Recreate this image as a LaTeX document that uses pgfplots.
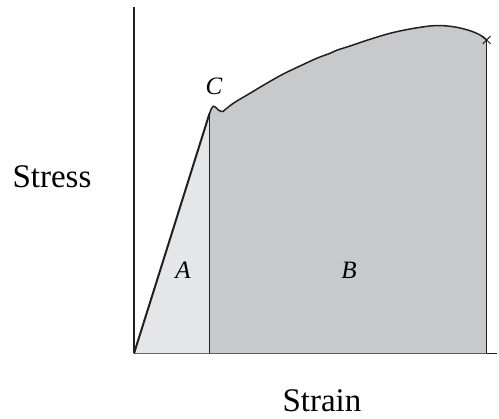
\documentclass[border=0pt]{standalone}
\usepackage{fontspec}
\setmainfont{Liberation Serif}
\usepackage{pgfplots}
\pgfplotsset{compat=1.18}
\definecolor{lite}{RGB}{229,230,232}
\definecolor{dark}{RGB}{200,201,203}
\definecolor{ink}{RGB}{35,31,32}
\begin{document}
\begin{tikzpicture}
\begin{axis}[
  scale only axis, width=363pt, height=346.5pt,
  xmin=0, xmax=363, ymin=0, ymax=346.5,
  axis lines=left, axis line style={-, draw=ink, line width=1.6pt},
  xtick=\empty, ytick=\empty,
  clip=false,
]
% region A (elastic)
\addplot[fill=lite, draw=none] coordinates {(0,0) (75.5,240) (75.5,0)} -- cycle;
% region B (plastic)
\addplot[fill=dark, draw=none] coordinates {
  (75.5,240) (77.5,245) (79.3,247.3) (81.5,246.3) (85,243) (88.7,241.8)
  (99.3,250.2) (116,260.2) (132.7,270.2) (149.3,279.5) (166,287.5)
  (182.7,295.2) (196,300.2) (202.7,303.2) (216,307.5) (236,314.2)
  (256,320.2) (276,324.5) (296,327.5) (309.3,327.8) (322.7,326.2)
  (336,322.8) (346,318.5) (352.7,313.5)} \closedcycle;
% elastic line
\addplot[ink, line width=2pt] coordinates {(0,0) (75.5,240)};
% yield bump
\addplot[ink, line width=1.5pt, smooth, tension=0.6] coordinates {
  (75.5,240) (77.5,245) (79.3,247.3) (81.5,246.3) (85,243) (88.7,241.8)};
% hardening curve
\addplot[ink, line width=1.5pt, smooth] coordinates {
  (88.7,241.8) (99.3,250.2) (116,260.2) (132.7,270.2) (149.3,279.5) (166,287.5)
  (182.7,295.2) (196,300.2) (202.7,303.2) (216,307.5) (236,314.2)
  (256,320.2) (276,324.5) (296,327.5) (309.3,327.8) (322.7,326.2)
  (336,322.8) (346,318.5) (352.7,313.5)};
% verticals
\addplot[ink, line width=1.5pt] coordinates {(75.5,0) (75.5,240)};
\addplot[ink, line width=1.5pt] coordinates {(352.7,0) (352.7,313.5)};
% fracture mark
\addplot[ink, only marks, mark=x, mark size=5.5pt, mark options={line width=1pt}] coordinates {(352.7,313.5)};
% labels
\node[font=\fontsize{25}{26}\selectfont\itshape] at (axis cs:49,83) {A};
\node[font=\fontsize{25}{26}\selectfont\itshape] at (axis cs:215,83.5) {B};
\node[font=\fontsize{25}{26}\selectfont\itshape] at (axis cs:80,267) {C};
\node[font=\fontsize{33}{34}\selectfont, anchor=base] at (axis cs:-82,165.5) {Stress};
\node[font=\fontsize{33}{34}\selectfont, anchor=base] at (axis cs:188,-58.5) {Strain};
\path (axis cs:-134,-65.5) rectangle (axis cs:365,353.5);
\end{axis}
\end{tikzpicture}
\end{document}
